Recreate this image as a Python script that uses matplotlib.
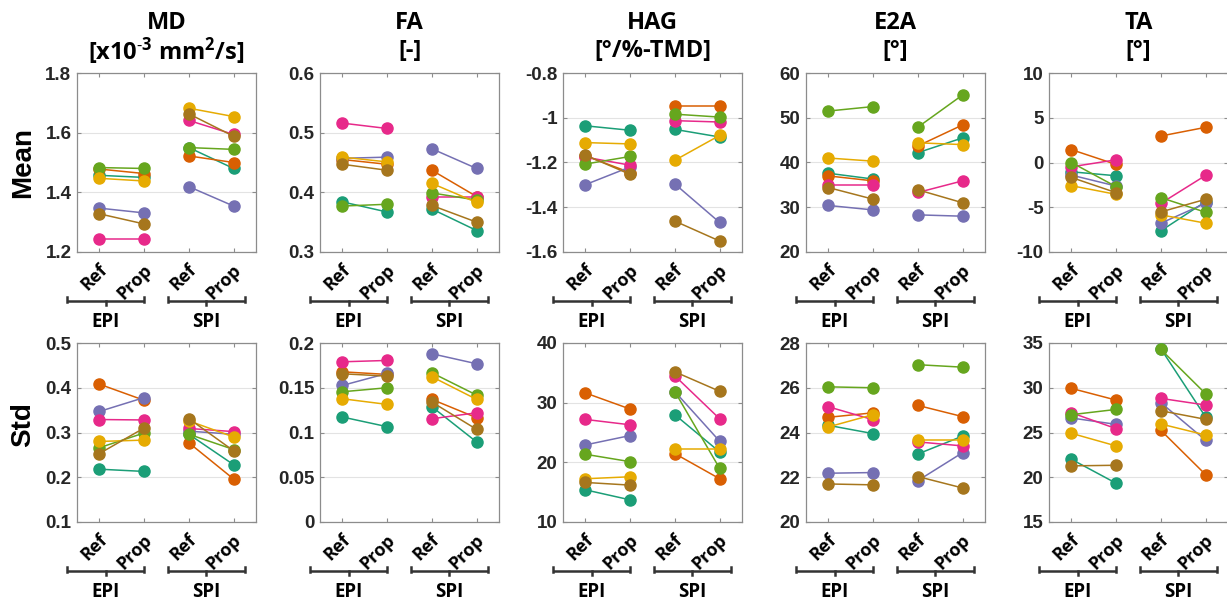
import matplotlib
matplotlib.use("Agg")
import matplotlib.pyplot as plt
from matplotlib.ticker import FuncFormatter, FixedLocator
from matplotlib.lines import Line2D
import matplotlib.transforms as mtrans

plt.rcParams['mathtext.fontset'] = 'custom'
plt.rcParams['mathtext.rm'] = 'Open Sans'
plt.rcParams['mathtext.bf'] = 'Open Sans:bold'
plt.rcParams['mathtext.it'] = 'Open Sans:italic'

# subject colours (Dark2 order): teal, orange, purple, pink, green, yellow, brown
colors = ['#1b9e77', '#d95f02', '#7570b3', '#e7298a', '#66a61e', '#e6ab02', '#a6761d']

x_labels = ['Ref', 'Prop', 'Ref', 'Prop']
groups = ['EPI', 'SPI']
row_labels = ['Mean', 'Std']
titles = ['MD', 'FA', 'HAG', 'E2A', 'TA']
units = [r'[x10$^{\mathbf{\text{-}3}}$ mm$^{\mathbf{2}}$/s]', '[-]', '[°/%-TMD]', '[°]', '[°]']

# ---- Mean row ----
md_mean_epi_ref = [1.457, 1.478, 1.347, 1.244, 1.483, 1.447, 1.328]
md_mean_epi_prop = [1.450, 1.463, 1.331, 1.244, 1.480, 1.438, 1.294]
md_mean_spi_ref = [1.550, 1.522, 1.419, 1.641, 1.550, 1.682, 1.663]
md_mean_spi_prop = [1.480, 1.500, 1.354, 1.594, 1.544, 1.654, 1.588]

fa_mean_epi_ref = [0.384, 0.455, 0.457, 0.516, 0.377, 0.459, 0.447]
fa_mean_epi_prop = [0.367, 0.447, 0.459, 0.507, 0.380, 0.451, 0.437]
fa_mean_spi_ref = [0.372, 0.437, 0.473, 0.392, 0.399, 0.415, 0.378]
fa_mean_spi_prop = [0.336, 0.393, 0.440, 0.392, 0.387, 0.383, 0.350]

hag_mean_epi_ref = [-1.036, -1.170, -1.299, -1.176, -1.207, -1.111, -1.167]
hag_mean_epi_prop = [-1.056, -1.245, -1.220, -1.212, -1.173, -1.117, -1.253]
hag_mean_spi_ref = [-1.052, -0.947, -1.296, -1.013, -0.984, -1.190, -1.462]
hag_mean_spi_prop = [-1.086, -0.947, -1.468, -1.019, -0.997, -1.079, -1.551]

e2a_mean_epi_ref = [37.6, 37.0, 30.4, 34.9, 51.5, 41.0, 34.4]
e2a_mean_epi_prop = [36.3, 35.9, 29.4, 34.9, 52.5, 40.3, 31.8]
e2a_mean_spi_ref = [42.2, 43.7, 28.3, 33.3, 47.9, 44.4, 33.9]
e2a_mean_spi_prop = [45.5, 48.4, 28.0, 35.9, 55.1, 44.0, 31.0]

ta_mean_epi_ref = [-1.04, 1.44, -1.41, -0.48, 0.00, -2.59, -1.67]
ta_mean_epi_prop = [-1.48, -0.22, -2.63, 0.30, -2.70, -3.56, -3.37]
ta_mean_spi_ref = [-7.63, 2.96, -6.78, -4.56, -3.93, -5.85, -5.52]
ta_mean_spi_prop = [-4.37, 3.93, -4.56, -1.44, -5.56, -6.78, -4.11]

# ---- Std row ----
md_std_epi_ref = [0.218, 0.408, 0.347, 0.329, 0.266, 0.280, 0.253]
md_std_epi_prop = [0.213, 0.372, 0.378, 0.328, 0.299, 0.283, 0.310]
md_std_spi_ref = [0.296, 0.277, 0.303, 0.309, 0.296, 0.326, 0.331]
md_std_spi_prop = [0.228, 0.196, 0.296, 0.302, 0.262, 0.290, 0.259]

fa_std_epi_ref = [0.1173, 0.1678, 0.1526, 0.1790, 0.1455, 0.1377, 0.1656]
fa_std_epi_prop = [0.1065, 0.1649, 0.1660, 0.1805, 0.1500, 0.1314, 0.1630]
fa_std_spi_ref = [0.1288, 0.1370, 0.1880, 0.1154, 0.1667, 0.1623, 0.1340]
fa_std_spi_prop = [0.0894, 0.1165, 0.1768, 0.1220, 0.1418, 0.1370, 0.1035]

hag_std_epi_ref = [15.39, 31.63, 22.92, 27.19, 21.35, 17.25, 16.63]
hag_std_epi_prop = [13.71, 28.93, 24.49, 26.29, 20.11, 17.58, 16.18]
hag_std_spi_ref = [27.98, 21.46, 31.85, 34.49, 31.85, 22.19, 35.17]
hag_std_spi_prop = [21.74, 17.25, 23.54, 27.30, 18.99, 22.19, 31.91]

e2a_std_epi_ref = [24.32, 24.68, 22.18, 25.15, 26.04, 24.25, 21.70]
e2a_std_epi_prop = [23.95, 24.88, 22.21, 24.57, 26.00, 24.80, 21.66]
e2a_std_spi_ref = [23.04, 25.21, 21.85, 23.58, 27.03, 23.68, 22.03]
e2a_std_spi_prop = [23.84, 24.71, 23.10, 23.40, 26.92, 23.68, 21.52]

ta_std_epi_ref = [22.01, 29.93, 26.62, 27.21, 26.99, 24.91, 21.27]
ta_std_epi_prop = [19.33, 28.62, 25.91, 25.43, 27.58, 23.50, 21.34]
ta_std_spi_ref = [34.35, 25.24, 28.33, 28.81, 34.28, 25.95, 27.43]
ta_std_spi_prop = [26.73, 20.29, 24.13, 28.07, 29.33, 24.72, 26.47]

panels = [
    [(md_mean_epi_ref, md_mean_epi_prop, md_mean_spi_ref, md_mean_spi_prop),
     (fa_mean_epi_ref, fa_mean_epi_prop, fa_mean_spi_ref, fa_mean_spi_prop),
     (hag_mean_epi_ref, hag_mean_epi_prop, hag_mean_spi_ref, hag_mean_spi_prop),
     (e2a_mean_epi_ref, e2a_mean_epi_prop, e2a_mean_spi_ref, e2a_mean_spi_prop),
     (ta_mean_epi_ref, ta_mean_epi_prop, ta_mean_spi_ref, ta_mean_spi_prop)],
    [(md_std_epi_ref, md_std_epi_prop, md_std_spi_ref, md_std_spi_prop),
     (fa_std_epi_ref, fa_std_epi_prop, fa_std_spi_ref, fa_std_spi_prop),
     (hag_std_epi_ref, hag_std_epi_prop, hag_std_spi_ref, hag_std_spi_prop),
     (e2a_std_epi_ref, e2a_std_epi_prop, e2a_std_spi_ref, e2a_std_spi_prop),
     (ta_std_epi_ref, ta_std_epi_prop, ta_std_spi_ref, ta_std_spi_prop)],
]

yticks = [
    [[1.2, 1.4, 1.6, 1.8], [0.3, 0.4, 0.5, 0.6], [-1.6, -1.4, -1.2, -1.0, -0.8],
     [20, 30, 40, 50, 60], [-10, -5, 0, 5, 10]],
    [[0.1, 0.2, 0.3, 0.4, 0.5], [0, 0.05, 0.1, 0.15, 0.2], [10, 20, 30, 40],
     [20, 22, 24, 26, 28], [15, 20, 25, 30, 35]],
]

W, H = 1227, 606
fig = plt.figure(figsize=(W / 100, H / 100), dpi=100)

ax_left = [77, 320, 563, 806, 1049]
ax_w = 179
ax_top = [73, 343]
ax_h = 179

tick_color = '#262626'
edge_color = '#8c8c8c'
bracket_color = '#333333'
title_font = 'Open Sans'
fmt = FuncFormatter(lambda v, p: '%g' % round(v, 6))

xpos = [1, 2, 3, 4]
bracket_spans = [(0.28, 2.0), (2.53, 4.25)]


def px_offset(ax, dx, dy):
    return ax.get_xaxis_transform() + mtrans.ScaledTranslation(dx / 100, dy / 100, fig.dpi_scale_trans)


for r in range(2):
    for c in range(5):
        l = ax_left[c] / W
        b = 1 - (ax_top[r] + ax_h) / H
        ax = fig.add_axes([l, b, ax_w / W, ax_h / H])
        er, ep, sr, sp = panels[r][c]
        for i, col in enumerate(colors):
            ax.plot(xpos[0:2], [er[i], ep[i]], '-o', color=col, mfc=col, mec=col,
                    lw=1.1, ms=8, zorder=3 + i)
            ax.plot(xpos[2:4], [sr[i], sp[i]], '-o', color=col, mfc=col, mec=col,
                    lw=1.1, ms=8, zorder=3 + i)
        yt = yticks[r][c]
        ax.set_xlim(0.5, 4.5)
        ax.set_ylim(yt[0], yt[-1])
        ax.yaxis.set_major_locator(FixedLocator(yt))
        ax.yaxis.set_major_formatter(fmt)
        ax.set_xticks(xpos)
        ax.set_xticklabels([])
        ax.grid(axis='y', color='#e3e3e3', lw=0.8, zorder=0)
        ax.set_axisbelow(True)
        for s in ax.spines.values():
            s.set_color(edge_color)
            s.set_linewidth(0.9)
        ax.tick_params(axis='both', direction='in', length=3, width=0.8,
                       color=edge_color, top=True, right=True)
        ax.tick_params(axis='y', labelsize=13.5, labelcolor=tick_color, pad=4)
        for lab in ax.get_yticklabels():
            lab.set_fontweight('bold')
            lab.set_family('Liberation Sans')
        # rotated x labels
        for xv, txt in zip(xpos, x_labels):
            ax.text(xv, 0, txt, transform=px_offset(ax, 5, -15), rotation=45, ha='right',
                    va='center', rotation_mode='anchor', fontsize=13, fontweight='bold',
                    family=title_font, color='black')
        # group brackets
        for (x0, x1), g in zip(bracket_spans, groups):
            xm = (x0 + x1) / 2
            ax.plot([x0, x1], [0, 0], transform=px_offset(ax, 0, -49), color=bracket_color,
                    lw=1.8, clip_on=False, solid_capstyle='butt')
            for xe in (x0, x1):
                ax.plot([xe, xe], [0, 0], transform=px_offset(ax, 0, -49), clip_on=False, lw=0)
                base = ax.get_xaxis_transform().transform((xe, 0))
                px, py = base[0], base[1] - 49
                fig.add_artist(Line2D([px / W, px / W], [(py - 0.9) / H, (py + 4) / H],
                                      color=bracket_color, lw=1.8, transform=fig.transFigure))
            base = ax.get_xaxis_transform().transform((xm, 0))
            px, py = base[0], base[1] - 49
            fig.add_artist(Line2D([px / W, px / W], [py / H, (py - 4) / H], color=bracket_color,
                                  lw=1.8, transform=fig.transFigure))
            ax.text(xm, 0, g, transform=px_offset(ax, 0, -70), ha='center', va='center',
                    fontsize=13.5, fontweight='bold', family=title_font, color='black',
                    clip_on=False)
        if r == 0:
            xc = (ax_left[c] + ax_w / 2) / W
            fig.text(xc, 1 - 23 / H, titles[c], ha='center', va='center', fontsize=17,
                     fontweight='bold', family=title_font, color='black')
            fig.text(xc, 1 - 51 / H, units[c], ha='center', va='center', fontsize=17,
                     fontweight='bold', family=[title_font, 'DejaVu Sans'], color='black')
        if c == 0:
            yc = 1 - (ax_top[r] + ax_h / 2 - (0 if r == 0 else 8)) / H
            fig.text(23 / W, yc, row_labels[r], rotation=90, ha='center', va='center',
                     fontsize=20, fontweight='bold', family='Liberation Sans', color='black')

fig.savefig('out.png', dpi=100)
